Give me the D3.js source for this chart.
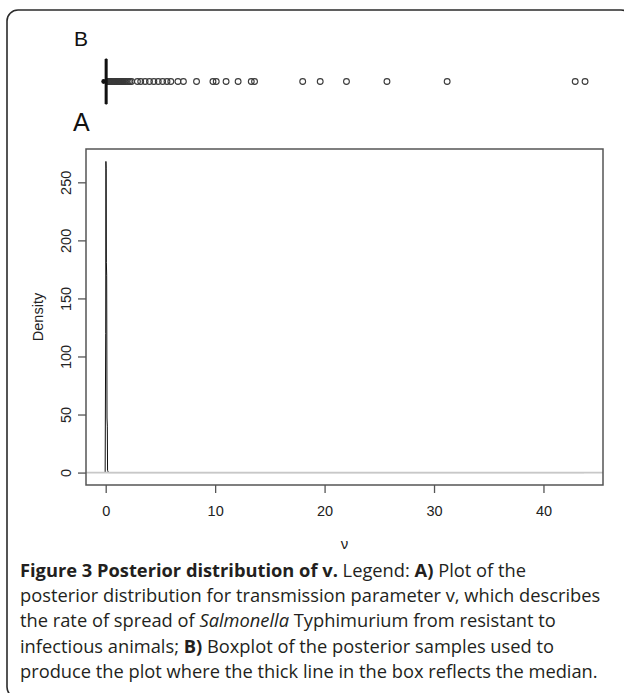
<!DOCTYPE html>
<html>
<head>
<meta charset="utf-8">
<script src="https://cdn.jsdelivr.net/npm/d3@7"></script>
<style>
  body { margin: 0; background: #fff; }
  svg { display: block; }
</style>
</head>
<body>
<svg id="chart" width="624" height="693"></svg>
<script>
// ---- data ----
// Panel A: posterior density of nu
const densX = [-0.05, 0.00, 0.02, 0.04, 0.06, 0.09, 0.12, 0.15, 0.17, 0.25, 0.5, 1, 2, 5, 10, 20, 30, 43.7];
const densY = [0, 120, 268, 262, 181, 170, 47, 40, 2, 0, 0, 0, 0, 0, 0, 0, 0, 0];
// Panel B: boxplot of posterior samples
const boxStats = { min: 0.0, q1: 0.02, median: 0.04, q3: 0.08, max: 0.2 };
const outliers = [0.22, 0.27, 0.31, 0.36, 0.42, 0.46, 0.51, 0.57, 0.61, 0.66, 0.72, 0.76, 0.81, 0.87, 0.92, 0.97,
  1.02, 1.06, 1.12, 1.17, 1.21, 1.27, 1.32, 1.36, 1.41, 1.47, 1.52, 1.57, 1.63, 1.76, 1.9, 2.06, 2.21, 2.36,
  2.9, 3.2, 3.6, 4.0, 4.4, 4.8, 5.2, 5.6, 5.95, 6.6, 7.1, 8.3, 9.8, 10.1, 11.0, 12.1, 13.3, 13.6,
  18.0, 19.6, 22.0, 25.7, 31.2, 42.9, 43.8];
const xTicks = [0, 10, 20, 30, 40];
const yTicks = [0, 50, 100, 150, 200, 250];
const xDomain = [-1.8, 45.44];
const yDomain = [-10.7, 278.7];
const captionLines = [
  [["b", "Figure 3 Posterior distribution of v."], ["n", " Legend: "], ["b", "A)"], ["n", " Plot of the"]],
  [["n", "posterior distribution for transmission parameter v, which describes"]],
  [["n", "the rate of spread of "], ["i", "Salmonella"], ["n", " Typhimurium from resistant to"]],
  [["n", "infectious animals; "], ["b", "B)"], ["n", " Boxplot of the posterior samples used to"]],
  [["n", "produce the plot where the thick line in the box reflects the median."]]
];

// ---- drawing ----
const svg = d3.select("#chart");
const axisFont = "'Liberation Sans', Arial, Helvetica, sans-serif";

// outer rounded frame
svg.append("rect").attr("x", 7).attr("y", 10).attr("width", 625).attr("height", 688)
  .attr("rx", 11).attr("fill", "none").attr("stroke", "#2b2b2b").attr("stroke-width", 1.6);

const plot = { left: 86, right: 603, top: 149, bottom: 485 };
const x = d3.scaleLinear().domain(xDomain).range([plot.left, plot.right]);
const y = d3.scaleLinear().domain(yDomain).range([plot.bottom, plot.top]);

// panel labels
svg.append("text").attr("x", 74).attr("y", 46).text("B")
  .attr("font-family", axisFont).attr("font-size", 21).attr("fill", "#111");
svg.append("text").attr("x", 73).attr("y", 131).text("A")
  .attr("font-family", axisFont).attr("font-size", 25).attr("fill", "#111");

// ---- Panel B: boxplot ----
const bY = 81.5, bH = 45;
const gb = svg.append("g");
// whisker
gb.append("line").attr("x1", x(boxStats.min)).attr("x2", x(boxStats.max))
  .attr("y1", bY).attr("y2", bY).attr("stroke", "#111").attr("stroke-width", 1.5);
// outliers
gb.selectAll("circle.out").data(outliers).join("circle").attr("class", "out")
  .attr("cx", d => x(d)).attr("cy", bY).attr("r", 2.9)
  .attr("fill", "none").attr("stroke", "#3a3a3a").attr("stroke-width", 1.1);
// lower whisker end dot
gb.append("circle").attr("cx", x(boxStats.min) - 2).attr("cy", bY).attr("r", 2.4).attr("fill", "#111");
// box
gb.append("rect").attr("x", x(boxStats.q1)).attr("y", bY - bH / 2)
  .attr("width", Math.max(0.5, x(boxStats.q3) - x(boxStats.q1))).attr("height", bH)
  .attr("fill", "none").attr("stroke", "#111").attr("stroke-width", 1);
// median (thick)
gb.append("line").attr("x1", x(boxStats.median)).attr("x2", x(boxStats.median))
  .attr("y1", bY - bH / 2).attr("y2", bY + bH / 2).attr("stroke", "#111").attr("stroke-width", 3);

// ---- Panel A: density ----
const pts = densX.map((d, i) => [d, densY[i]]);
svg.append("path").datum(pts)
  .attr("d", d3.line().x(d => x(d[0])).y(d => y(d[1])))
  .attr("fill", "none").attr("stroke", "#111").attr("stroke-width", 1);

// zero reference line (drawn over the density tail)
svg.append("line").attr("x1", plot.left).attr("x2", plot.right).attr("y1", y(0)).attr("y2", y(0))
  .attr("stroke", "#c8c8c8").attr("stroke-width", 1.8);

// frame
svg.append("rect").attr("x", plot.left).attr("y", plot.top)
  .attr("width", plot.right - plot.left).attr("height", plot.bottom - plot.top)
  .attr("fill", "none").attr("stroke", "#555").attr("stroke-width", 1.5);

// axes
const xAxis = svg.append("g").attr("transform", `translate(0,${plot.bottom})`)
  .call(d3.axisBottom(x).tickValues(xTicks).tickSize(8).tickPadding(13).tickFormat(d3.format("d")));
const yAxis = svg.append("g").attr("transform", `translate(${plot.left},0)`)
  .call(d3.axisLeft(y).tickValues(yTicks).tickSize(8).tickFormat(d3.format("d")));
[xAxis, yAxis].forEach(g => {
  g.select(".domain").remove();
  g.selectAll(".tick line").attr("stroke", "#555").attr("stroke-width", 1.3);
  g.selectAll(".tick text").attr("font-family", axisFont).attr("font-size", 14.5).attr("fill", "#222");
});
yAxis.selectAll(".tick text")
  .attr("x", null).attr("dy", null).attr("y", null)
  .attr("text-anchor", "middle")
  .attr("transform", "translate(-15,0) rotate(-90)");

// axis titles
svg.append("text").attr("transform", "translate(43,317) rotate(-90)")
  .attr("text-anchor", "middle").attr("font-family", axisFont).attr("font-size", 14.5)
  .attr("fill", "#222").text("Density");
svg.append("text").attr("x", (plot.left + plot.right) / 2).attr("y", 549)
  .attr("text-anchor", "middle").attr("font-family", axisFont).attr("font-size", 15)
  .attr("fill", "#222").text("ν");

// ---- caption ----
const capFont = "'Open Sans', 'Noto Sans', sans-serif";
const cap = svg.append("g").attr("font-family", capFont).attr("font-size", 18.3).attr("fill", "#231f20");
captionLines.forEach((line, i) => {
  const t = cap.append("text").attr("x", 20).attr("y", 577 + i * 25.2);
  line.forEach(([style, str]) => {
    const s = t.append("tspan").text(str);
    if (style === "b") s.attr("font-weight", "bold");
    if (style === "i") s.attr("font-style", "italic");
  });
});
</script>
</body>
</html>
